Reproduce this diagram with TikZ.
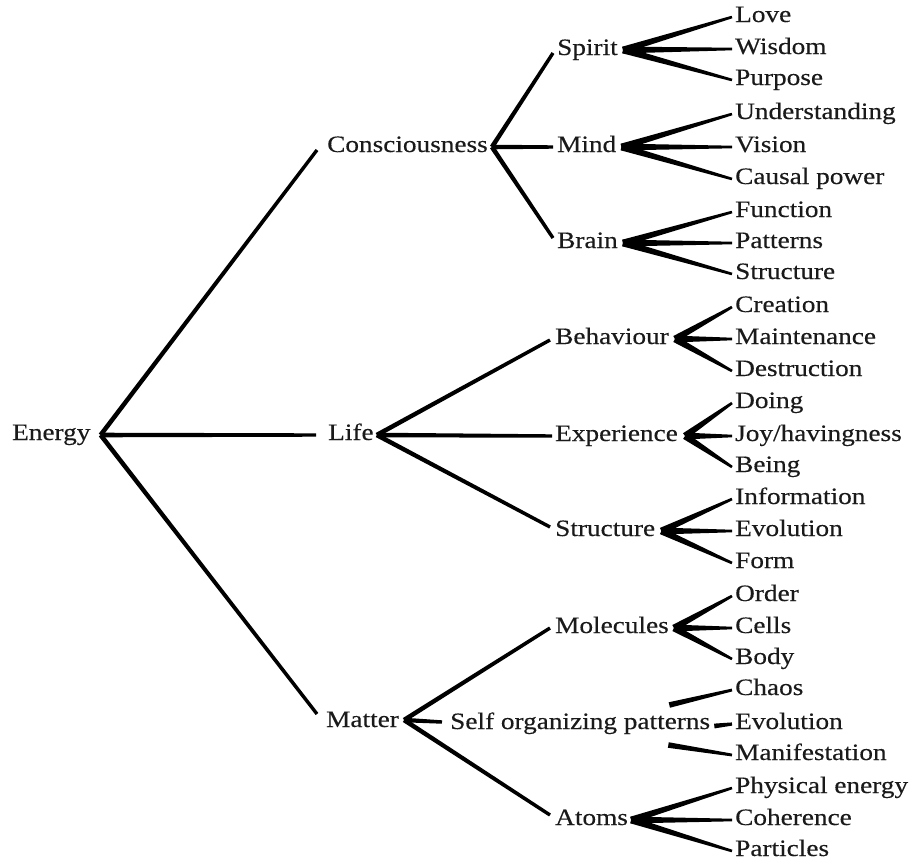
\documentclass[tikz,border=0pt]{standalone}
\usepackage{fontspec}
\setmainfont[FakeStretch=1.16,FakeBold=0.3]{Liberation Serif}
\usetikzlibrary{calc}
\definecolor{ink}{HTML}{1A1A1A}
\definecolor{stroke}{HTML}{353535}
% tapered connector: from, to, half width at start, half width at end
\newcommand\taperline[4]{%
  \fill[stroke] ($(#1)!#3!90:(#2)$) -- ($(#2)!#4!-90:(#1)$) -- ($(#2)!#4!90:(#1)$) -- ($(#1)!#3!-90:(#2)$) -- cycle;}
\tikzset{
  lbl/.style={inner sep=0pt, anchor=west, text height=15pt, text depth=5pt,
              text=ink, font=\fontsize{23.5}{27}\selectfont}
}
\begin{document}
\begin{tikzpicture}[x=1pt,y=1pt]
\useasboundingbox (0,0) rectangle (917,-863);
\fill[white] (0,0) rectangle (917,-863);

% levels 0 and 1
\node[lbl] (energy) at (12,-435) {Energy};
\node[lbl] (consc) at (327,-147) {Consciousness};
\node[lbl] (life) at (328,-435) {Life};
\node[lbl] (matter) at (326,-722) {Matter};

% level 2
\node[lbl] (spirit) at (557,-50) {Spirit};
\node[lbl] (mind) at (557,-147) {Mind};
\node[lbl] (brain) at (557,-243) {Brain};
\node[lbl] (behav) at (555,-339) {Behaviour};
\node[lbl] (exper) at (555,-436) {Experience};
\node[lbl] (struct) at (555,-531) {Structure};
\node[lbl] (molec) at (555,-628) {Molecules};
\node[lbl] (selforg) at (450,-724) {Self organizing patterns};
\node[lbl] (atoms) at (555,-820) {Atoms};

% leaves
\foreach \n/\y/\t in {
  love/17/Love, wisdom/49/Wisdom, purpose/80/Purpose,
  underst/114/Understanding, vision/147/Vision, causal/179/{Causal power},
  function/212/Function, patterns/243/Patterns, structure/274/Structure,
  creation/307/Creation, mainten/339/Maintenance, destruct/371/Destruction,
  doing/403/Doing, joy/436/{Joy/havingness}, being/467/Being,
  inform/499/Information, evolA/531/Evolution, form/563/Form,
  order/596/Order, cells/628/Cells, body/659/Body,
  chaos/690/Chaos, evolB/724/Evolution, manif/755/Manifestation,
  physical/788/{Physical energy}, coher/820/Coherence, particles/851/Particles}
  {\node[lbl] (\n) at (735,-\y) {\t};}

% connector tips at the leaves
\foreach \n in {love,wisdom,purpose,underst,vision,causal,function,patterns,structure,
  creation,mainten,destruct,doing,joy,being,inform,evolA,form,order,cells,body,
  chaos,evolB,manif,physical,coher,particles}
  {\coordinate (\n-t) at ($(\n.west)+(-3,0)$);}

% forks
\coordinate (energy-f) at ($(energy.east)+(10,0)$);
\coordinate (consc-f) at ($(consc.east)+(4,0)$);
\coordinate (life-f) at ($(life.east)+(3,0)$);
\coordinate (matter-f) at ($(matter.east)+(5,2)$);
\coordinate (spirit-f) at ($(spirit.east)+(5,0)$);
\coordinate (mind-f) at ($(mind.east)+(5,0)$);
\coordinate (brain-f) at ($(brain.east)+(5,0)$);
\coordinate (behav-f) at ($(behav.east)+(6,0)$);
\coordinate (exper-f) at ($(exper.east)+(7,0)$);
\coordinate (struct-f) at ($(struct.east)+(6,0)$);
\coordinate (molec-f) at ($(molec.east)+(5,0)$);
\coordinate (atoms-f) at ($(atoms.east)+(3,0)$);

% ends of the main connectors
\coordinate (consc-e) at ($(consc.west)+(-10,-3)$);
\coordinate (life-e) at ($(life.west)+(-12,0)$);
\coordinate (matter-e) at ($(matter.west)+(-9,8)$);
\coordinate (spirit-e) at ($(spirit.west)+(-4,-3)$);
\coordinate (mind-e) at ($(mind.west)+(-4,0)$);
\coordinate (brain-e) at ($(brain.west)+(-4,5)$);
\coordinate (behav-e) at ($(behav.west)+(-5,-1)$);
\coordinate (exper-e) at ($(exper.west)+(-3,0)$);
\coordinate (struct-e) at ($(struct.west)+(-5,4)$);
\coordinate (molec-e) at ($(molec.west)+(-5,0)$);
\coordinate (selforg-e) at ($(selforg.west)+(-8,2)$);
\coordinate (atoms-e) at ($(atoms.west)+(-5,5)$);

% main connectors
\foreach \a/\b in {energy/consc, energy/life, energy/matter,
  consc/spirit, consc/mind, consc/brain,
  life/behav, life/exper, life/struct,
  matter/molec, matter/selforg, matter/atoms}
  {\taperline{\a-f}{\b-e}{2.3pt}{1.7pt}}

% fans to the leaves
\foreach \a/\b in {spirit/love, spirit/wisdom, spirit/purpose,
  mind/underst, mind/vision, mind/causal,
  brain/function, brain/patterns, brain/structure,
  behav/creation, behav/mainten, behav/destruct,
  exper/doing, exper/joy, exper/being,
  struct/inform, struct/evolA, struct/form,
  molec/order, molec/cells, molec/body,
  atoms/physical, atoms/coher, atoms/particles}
  {\taperline{\a-f}{\b-t}{3.4pt}{1.3pt}}

% self organizing patterns: separate strokes
\coordinate (chaos-s) at ($(selforg.east)+(-41,19)$);
\coordinate (evolB-s) at ($(selforg.east)+(4,-2)$);
\coordinate (manif-s) at ($(selforg.east)+(-42,-21)$);
\taperline{chaos-s}{chaos-t}{2.8pt}{1.4pt}
\taperline{evolB-s}{evolB-t}{2.4pt}{1.6pt}
\taperline{manif-s}{manif-t}{2.8pt}{1.4pt}
\end{tikzpicture}
\end{document}
